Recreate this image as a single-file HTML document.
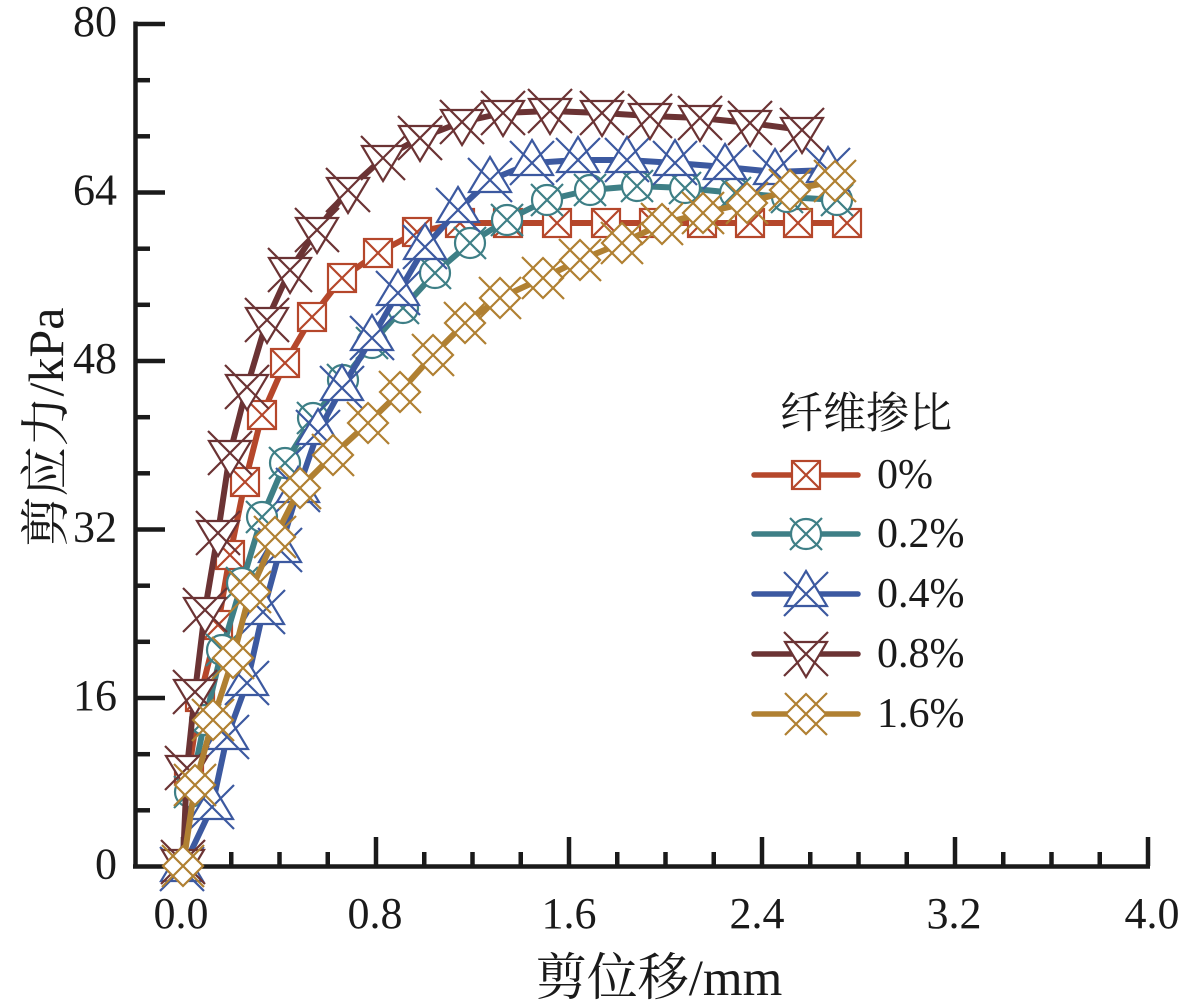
<!DOCTYPE html>
<html>
<head>
<meta charset="utf-8">
<style>
  html,body{margin:0;padding:0;background:#fff;}
  svg{display:block;}
  .tl{font-family:"Liberation Serif","Noto Serif CJK SC",serif;fill:#1a1a1a;}
  .cj{font-family:"Liberation Serif","Noto Serif CJK SC","Noto Sans CJK SC",serif;fill:#1a1a1a;}
</style>
</head>
<body>
<svg width="1190" height="1002" viewBox="0 0 1190 1002" xmlns="http://www.w3.org/2000/svg">
  <defs>
    <g id="mR" stroke="#b5472b" stroke-width="2.2" fill="#fff">
      <rect x="-14" y="-14" width="28" height="28"/>
      <line x1="-14" y1="-14" x2="14" y2="14"/>
      <line x1="-14" y1="14" x2="14" y2="-14"/>
    </g>
    <g id="mT" stroke="#3e7f86" stroke-width="2.2" fill="#fff">
      <circle r="15"/>
      <line x1="-16" y1="-16" x2="16" y2="16"/>
      <line x1="-16" y1="16" x2="16" y2="-16"/>
    </g>
    <g id="mB" stroke="#3c59a0" stroke-width="2.2" fill="#fff">
      <polygon points="0,-23 21,12 -21,12"/>
      <line x1="-22" y1="-22" x2="22" y2="22"/>
      <line x1="-22" y1="22" x2="22" y2="-22"/>
    </g>
    <g id="mM" stroke="#6b3334" stroke-width="2.2" fill="#fff">
      <polygon points="0,23 21,-12 -21,-12"/>
      <line x1="-22" y1="-22" x2="22" y2="22"/>
      <line x1="-22" y1="22" x2="22" y2="-22"/>
    </g>
    <g id="mG" stroke="#b08032" stroke-width="2.2" fill="#fff">
      <polygon points="0,-20 20,0 0,20 -20,0"/>
      <line x1="-21" y1="-21" x2="21" y2="21"/>
      <line x1="-21" y1="21" x2="21" y2="-21"/>
    </g>
  </defs>

  <!-- axes -->
  <g stroke="#1a1a1a" stroke-width="4.5" fill="none">
    <line x1="135.5" y1="21.5" x2="135.5" y2="868"/>
    <line x1="133" y1="866.5" x2="1150" y2="866.5"/>
    <!-- y major -->
    <line x1="135" y1="24" x2="165" y2="24"/>
    <line x1="135" y1="192.5" x2="165" y2="192.5"/>
    <line x1="135" y1="361" x2="165" y2="361"/>
    <line x1="135" y1="529.5" x2="165" y2="529.5"/>
    <line x1="135" y1="698" x2="165" y2="698"/>
    <!-- y minor -->
    <line x1="135" y1="80.2" x2="150" y2="80.2"/>
    <line x1="135" y1="136.3" x2="150" y2="136.3"/>
    <line x1="135" y1="248.7" x2="150" y2="248.7"/>
    <line x1="135" y1="304.8" x2="150" y2="304.8"/>
    <line x1="135" y1="417.2" x2="150" y2="417.2"/>
    <line x1="135" y1="473.3" x2="150" y2="473.3"/>
    <line x1="135" y1="585.7" x2="150" y2="585.7"/>
    <line x1="135" y1="641.8" x2="150" y2="641.8"/>
    <line x1="135" y1="754.2" x2="150" y2="754.2"/>
    <line x1="135" y1="810.3" x2="150" y2="810.3"/>
    <!-- x major -->
    <line x1="183" y1="866" x2="183" y2="837"/>
    <line x1="376" y1="866" x2="376" y2="837"/>
    <line x1="569" y1="866" x2="569" y2="837"/>
    <line x1="762" y1="866" x2="762" y2="837"/>
    <line x1="955" y1="866" x2="955" y2="837"/>
    <line x1="1148" y1="866" x2="1148" y2="837"/>
    <!-- x minor -->
    <line x1="231.25" y1="866" x2="231.25" y2="852"/>
    <line x1="279.5" y1="866" x2="279.5" y2="852"/>
    <line x1="327.75" y1="866" x2="327.75" y2="852"/>
    <line x1="424.25" y1="866" x2="424.25" y2="852"/>
    <line x1="472.5" y1="866" x2="472.5" y2="852"/>
    <line x1="520.75" y1="866" x2="520.75" y2="852"/>
    <line x1="617.25" y1="866" x2="617.25" y2="852"/>
    <line x1="665.5" y1="866" x2="665.5" y2="852"/>
    <line x1="713.75" y1="866" x2="713.75" y2="852"/>
    <line x1="810.25" y1="866" x2="810.25" y2="852"/>
    <line x1="858.5" y1="866" x2="858.5" y2="852"/>
    <line x1="906.75" y1="866" x2="906.75" y2="852"/>
    <line x1="1003.25" y1="866" x2="1003.25" y2="852"/>
    <line x1="1051.5" y1="866" x2="1051.5" y2="852"/>
    <line x1="1099.75" y1="866" x2="1099.75" y2="852"/>
  </g>

  <!-- tick labels -->
  <g class="tl" font-size="44" text-anchor="end">
    <text x="117" y="36">80</text>
    <text x="117" y="204.5">64</text>
    <text x="117" y="373">48</text>
    <text x="117" y="541.5">32</text>
    <text x="117" y="710">16</text>
    <text x="117" y="878.5">0</text>
  </g>
  <g class="tl" font-size="44" text-anchor="middle">
    <text x="181" y="928">0.0</text>
    <text x="375" y="928">0.8</text>
    <text x="569" y="928">1.6</text>
    <text x="757" y="928">2.4</text>
    <text x="954" y="928">3.2</text>
    <text x="1152" y="928">4.0</text>
  </g>

  <!-- axis titles -->
  <text class="cj" font-size="51" x="659" y="995" text-anchor="middle">剪位移/mm</text>
  <text class="cj" font-size="50" text-anchor="middle" transform="translate(63,427) rotate(-90)">剪应力/kPa</text>

  <!-- series 0% -->
  <polyline fill="none" stroke="#b5472b" stroke-width="6" stroke-linejoin="round" stroke-linecap="round"
    points="183,866 189,770 200,697 218,625 230,555 245,482 262,415 285,363 312,317 342,278 378,253 417,232 460,223 508,223 557,223 606,223 654,223 702,223 750,223 798,223 847,223"/>
  <g>
    <use href="#mR" x="183" y="866"/><use href="#mR" x="189" y="770"/><use href="#mR" x="200" y="697"/>
    <use href="#mR" x="218" y="625"/><use href="#mR" x="230" y="555"/><use href="#mR" x="245" y="482"/>
    <use href="#mR" x="262" y="415"/><use href="#mR" x="285" y="363"/><use href="#mR" x="312" y="317"/>
    <use href="#mR" x="342" y="278"/><use href="#mR" x="378" y="253"/><use href="#mR" x="417" y="232"/>
    <use href="#mR" x="460" y="223"/><use href="#mR" x="508" y="223"/><use href="#mR" x="557" y="223"/>
    <use href="#mR" x="606" y="223"/><use href="#mR" x="654" y="223"/><use href="#mR" x="702" y="223"/>
    <use href="#mR" x="750" y="223"/><use href="#mR" x="798" y="223"/><use href="#mR" x="847" y="223"/>
  </g>

  <!-- series 0.2% -->
  <polyline fill="none" stroke="#3e7f86" stroke-width="6" stroke-linejoin="round" stroke-linecap="round"
    points="183,866 190,792 205,720 222,650 242,583 262,517 285,463 313,418 343,380 372,343 403,308 435,273 470,243 507,220 547,200 590,190 637,186 685,188 735,193 787,197 837,200"/>
  <g>
    <use href="#mT" x="183" y="866"/><use href="#mT" x="190" y="792"/><use href="#mT" x="205" y="720"/>
    <use href="#mT" x="222" y="650"/><use href="#mT" x="242" y="583"/><use href="#mT" x="262" y="517"/>
    <use href="#mT" x="285" y="463"/><use href="#mT" x="313" y="418"/><use href="#mT" x="343" y="380"/>
    <use href="#mT" x="372" y="343"/><use href="#mT" x="403" y="308"/><use href="#mT" x="435" y="273"/>
    <use href="#mT" x="470" y="243"/><use href="#mT" x="507" y="220"/><use href="#mT" x="547" y="200"/>
    <use href="#mT" x="590" y="190"/><use href="#mT" x="637" y="186"/><use href="#mT" x="685" y="188"/>
    <use href="#mT" x="735" y="193"/><use href="#mT" x="787" y="197"/><use href="#mT" x="837" y="200"/>
  </g>

  <!-- series 0.4% -->
  <polyline fill="none" stroke="#3c59a0" stroke-width="6" stroke-linejoin="round" stroke-linecap="round"
    points="183,868 212,807 227,737 247,683 263,612 280,550 298,490 318,432 342,388 372,338 398,293 425,247 458,210 490,180 532,163 578,160 627,160 675,163 725,167 775,172 828,170"/>
  <g>
    <use href="#mB" x="182" y="869"/><use href="#mB" x="212" y="807"/><use href="#mB" x="227" y="737"/>
    <use href="#mB" x="247" y="683"/><use href="#mB" x="263" y="612"/><use href="#mB" x="280" y="550"/>
    <use href="#mB" x="298" y="490"/><use href="#mB" x="318" y="432"/><use href="#mB" x="342" y="388"/>
    <use href="#mB" x="372" y="338"/><use href="#mB" x="398" y="293"/><use href="#mB" x="425" y="247"/>
    <use href="#mB" x="458" y="210"/><use href="#mB" x="490" y="180"/><use href="#mB" x="532" y="163"/>
    <use href="#mB" x="578" y="160"/><use href="#mB" x="627" y="160"/><use href="#mB" x="675" y="163"/>
    <use href="#mB" x="725" y="167"/><use href="#mB" x="775" y="172"/><use href="#mB" x="828" y="170"/>
  </g>

  <!-- series 0.8% -->
  <polyline fill="none" stroke="#6b3334" stroke-width="6" stroke-linejoin="round" stroke-linecap="round"
    points="183,862 187,768 195,692 205,610 218,533 230,453 247,387 267,320 290,270 317,230 348,190 383,158 420,138 462,122 503,113 550,111 602,113 650,116 700,118 750,123 802,130"/>
  <g>
    <use href="#mM" x="183" y="862"/><use href="#mM" x="187" y="768"/><use href="#mM" x="195" y="692"/>
    <use href="#mM" x="205" y="610"/><use href="#mM" x="218" y="533"/><use href="#mM" x="230" y="453"/>
    <use href="#mM" x="247" y="387"/><use href="#mM" x="267" y="320"/><use href="#mM" x="290" y="270"/>
    <use href="#mM" x="317" y="230"/><use href="#mM" x="348" y="190"/><use href="#mM" x="383" y="158"/>
    <use href="#mM" x="420" y="138"/><use href="#mM" x="462" y="122"/><use href="#mM" x="503" y="113"/>
    <use href="#mM" x="550" y="111"/><use href="#mM" x="602" y="113"/><use href="#mM" x="650" y="116"/>
    <use href="#mM" x="700" y="118"/><use href="#mM" x="750" y="123"/><use href="#mM" x="802" y="130"/>
  </g>

  <!-- series 1.6% -->
  <polyline fill="none" stroke="#b08032" stroke-width="6" stroke-linejoin="round" stroke-linecap="round"
    points="183,866 195,785 213,720 233,658 250,592 275,537 300,488 333,455 368,423 400,392 433,355 465,323 500,298 543,278 580,260 622,243 662,224 703,213 747,203 790,190 835,181"/>
  <g>
    <use href="#mG" x="183" y="866"/><use href="#mG" x="195" y="785"/><use href="#mG" x="213" y="720"/>
    <use href="#mG" x="233" y="658"/><use href="#mG" x="250" y="592"/><use href="#mG" x="275" y="537"/>
    <use href="#mG" x="300" y="488"/><use href="#mG" x="333" y="455"/><use href="#mG" x="368" y="423"/>
    <use href="#mG" x="400" y="392"/><use href="#mG" x="433" y="355"/><use href="#mG" x="465" y="323"/>
    <use href="#mG" x="500" y="298"/><use href="#mG" x="543" y="278"/><use href="#mG" x="580" y="260"/>
    <use href="#mG" x="622" y="243"/><use href="#mG" x="662" y="224"/><use href="#mG" x="703" y="213"/>
    <use href="#mG" x="747" y="203"/><use href="#mG" x="790" y="190"/><use href="#mG" x="835" y="181"/>
  </g>

  <!-- legend -->
  <text class="cj" font-size="43" x="780" y="428">纤维掺比</text>
  <g stroke-width="5.5" stroke-linecap="round">
    <line x1="754" y1="475" x2="858" y2="475" stroke="#b5472b"/>
    <line x1="754" y1="534" x2="858" y2="534" stroke="#3e7f86"/>
    <line x1="754" y1="594" x2="858" y2="594" stroke="#3c59a0"/>
    <line x1="754" y1="654" x2="858" y2="654" stroke="#6b3334"/>
    <line x1="754" y1="714" x2="858" y2="714" stroke="#b08032"/>
  </g>
  <use href="#mR" x="806" y="475"/>
  <use href="#mT" x="806" y="534"/>
  <use href="#mB" x="806" y="594"/>
  <use href="#mM" x="806" y="654"/>
  <use href="#mG" x="806" y="714"/>
  <g class="tl" font-size="42">
    <text x="877" y="488">0%</text>
    <text x="877" y="547">0.2%</text>
    <text x="877" y="607">0.4%</text>
    <text x="877" y="667">0.8%</text>
    <text x="877" y="727">1.6%</text>
  </g>
</svg>
</body>
</html>
